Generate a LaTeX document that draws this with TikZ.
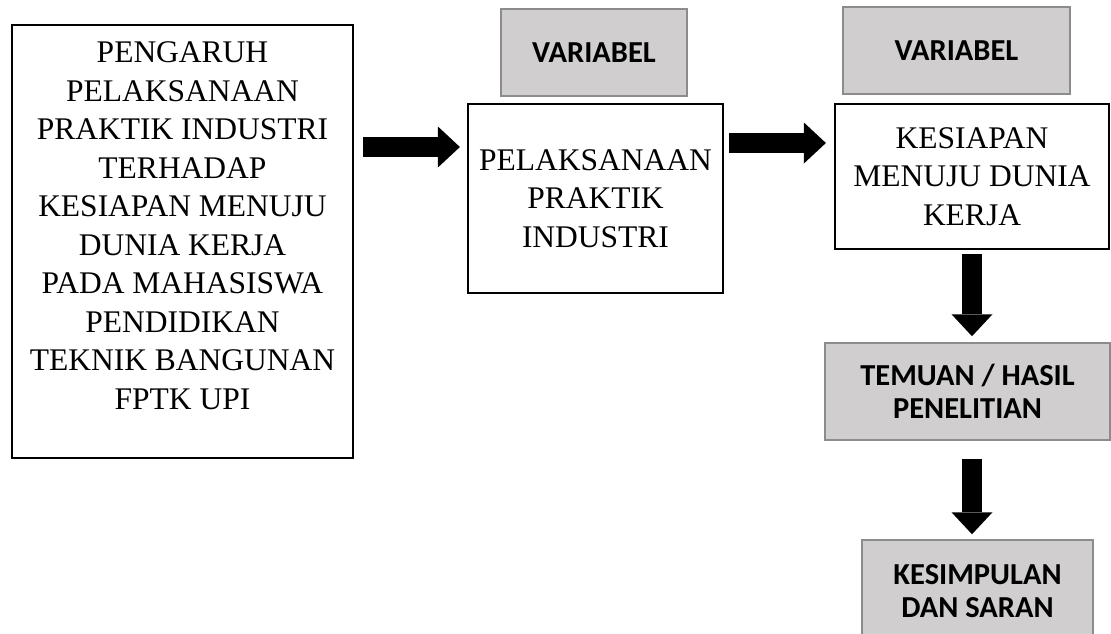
\documentclass[tikz,border=0pt]{standalone}
\usepackage{fontspec}
\setmainfont{Liberation Serif}
\newfontfamily\calibri{Carlito}
\usetikzlibrary{arrows.meta}
\definecolor{abufill}{RGB}{208,206,206}
\definecolor{abuedge}{RGB}{140,140,140}

\begin{document}
\begin{tikzpicture}[x=1pt, y=-1pt,
  kotak/.style={draw=black, line width=2.2pt, fill=white, align=center, inner sep=0pt,
                font=\fontsize{31.5}{38.5}\selectfont},
  abu/.style  ={draw=abuedge, line width=1.5pt, fill=abufill, align=center, inner sep=0pt,
                font=\calibri\bfseries\fontsize{30.5}{33}\selectfont},
  panah/.style={-{Triangle[length=22pt, width=41pt, line width=0pt]}, line width=20pt},
]
\clip (0,0) rectangle (1111,634);

\node[kotak, minimum width=341pt, minimum height=433pt] (judul) at (182.5,241.5)
  {PENGARUH\\PELAKSANAAN\\PRAKTIK INDUSTRI\\TERHADAP\\KESIAPAN MENUJU\\DUNIA KERJA\\
   PADA MAHASISWA\\PENDIDIKAN\\TEKNIK BANGUNAN\\FPTK UPI\\[-7pt]\mbox{}};
\node[kotak, minimum width=255pt, minimum height=189pt] (pelaksanaan) at (595.5,198.5)
  {PELAKSANAAN\\PRAKTIK\\INDUSTRI};
\node[kotak, minimum width=274pt, minimum height=145pt] (kesiapan) at (972,176.5)
  {KESIAPAN\\MENUJU DUNIA\\KERJA};

\node[abu, minimum width=186pt, minimum height=87pt] (var1) at (594,52.5) {VARIABEL};
\node[abu, minimum width=227pt, minimum height=87pt] (var2) at (956.5,50.5) {VARIABEL};
\node[abu, minimum width=285pt, minimum height=97pt] (temuan) at (967.5,391.5)
  {TEMUAN / HASIL\\PENELITIAN};
\node[abu, minimum width=231pt, minimum height=102pt] (kesimpulan) at (977.5,591)
  {KESIMPULAN\\DAN SARAN};

\draw[panah, shorten <=9pt, shorten >=7pt] (judul.east |- 0,147) -- (pelaksanaan.west |- 0,147);
\draw[panah, shorten <=5pt, shorten >=8pt] (pelaksanaan.east |- 0,143) -- (kesiapan.west |- 0,143);
\draw[panah, shorten <=4pt, shorten >=6pt] (kesiapan.south) -- (kesiapan.south |- temuan.north);
\draw[panah, shorten <=18pt, shorten >=5pt] (kesiapan.south |- temuan.south) -- (kesiapan.south |- kesimpulan.north);

\end{tikzpicture}
\end{document}
